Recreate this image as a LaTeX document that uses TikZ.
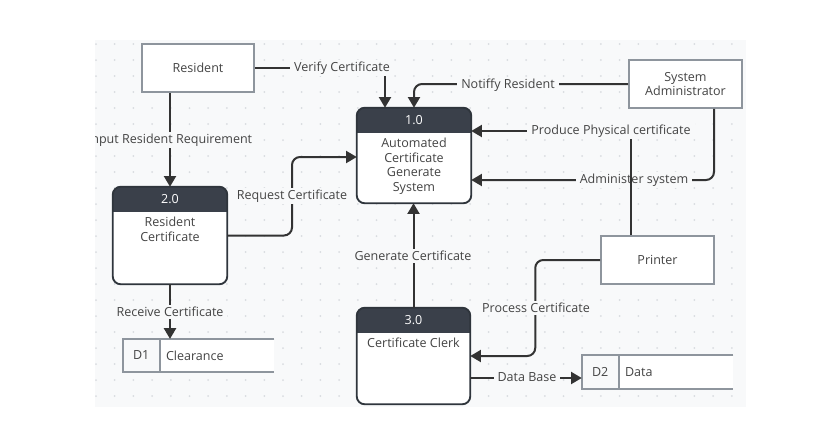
\documentclass[tikz,border=0pt]{standalone}
\usepackage{fontspec}
\setmainfont{Open Sans}
\usetikzlibrary{arrows.meta,calc}
\definecolor{bg}{HTML}{F8F9FA}
\definecolor{dotc}{HTML}{D9DCE0}
\definecolor{hdr}{HTML}{3A404A}
\definecolor{pborder}{HTML}{2F353C}
\definecolor{eborder}{HTML}{8E959D}
\definecolor{linec}{HTML}{333333}
\definecolor{txt}{HTML}{444444}
\newcommand\dfdfont{\fontsize{9.4}{10.9}\selectfont}
\tikzset{
 flow/.style={draw=linec, line width=1.5pt, -{Triangle[length=8pt,width=9pt]}},
 lbl/.style={fill=bg, inner xsep=3pt, inner ysep=1.5pt, text=txt, font=\dfdfont},
 entity/.style={draw=eborder, fill=white, line width=1.4pt, minimum width=84.5pt, minimum height=36pt, inner sep=0pt, text=txt, align=center, font=\dfdfont},
 storeline/.style={draw=eborder, line width=1.4pt},
 txtnode/.style={text=txt, font=\dfdfont, inner sep=0pt},
}
\newcommand\dfdproc[6]{%
 \node[minimum width=#3, minimum height=#4, inner sep=0pt] (#1) at #2 {};
 \fill[white, rounded corners=6pt] (#1.north west) rectangle (#1.south east);
 \begin{scope}
  \clip (#1.north west) rectangle ($(#1.north east)+(0,25)$);
  \fill[hdr, rounded corners=6pt] (#1.north west) rectangle (#1.south east);
 \end{scope}
 \draw[pborder, line width=1.4pt, rounded corners=6pt] (#1.north west) rectangle (#1.south east);
 \node[txtnode, text=white] (#1h) at ($(#1.north)+(0,12.5)$) {#5};
 \node[txtnode, anchor=north, align=center] (#1t) at ($(#1.north)+(0,30)$) {#6};
}
\newcommand\dfdstore[4]{%
 \node[minimum width=113.25pt, minimum height=24.5pt, inner sep=0pt] (#1) at #2 {};
 \fill[white] (#1.north west) rectangle (#1.south east);
 \fill[bg] (#1.north west) rectangle ($(#1.south west)+(37,0)$);
 \draw[storeline] (#1.north east) -- (#1.north west) -- (#1.south west) -- (#1.south east);
 \draw[storeline] ($(#1.north west)+(37,0)$) -- ($(#1.south west)+(37,0)$);
 \node[txtnode] (#1i) at ($(#1.west)+(18.5,0)$) {#3};
 \node[txtnode, anchor=west] (#1l) at ($(#1.west)+(43,0)$) {#4};
}
\begin{document}
\begin{tikzpicture}[x=0.75pt, y=-0.75pt]
\useasboundingbox (0,0) rectangle (813,422);
\fill[white] (0,0) rectangle (813,422);
\fill[bg] (95,40) rectangle (746,407);
\foreach \i in {0,...,34} {
  \foreach \j in {0,...,22} {
    \fill[dotc] ({96+18.7*\i},{44+16*\j}) circle (0.75pt);
  }
}
\begin{scope}
\clip (95,40) rectangle (746,407);
% external entities
\node[entity] (res) at (198,68) {Resident};
\node[entity] (sa) at (685.5,84) {System\\Administrator};
\node[entity] (pr) at (657.5,260) {Printer};
% processes
\dfdproc{p1}{(414,155.5)}{85.5pt}{71.25pt}{1.0}{Automated\\Certificate\\Generate\\System}
\dfdproc{p2}{(170,235.5)}{85.5pt}{72.75pt}{2.0}{Resident\\Certificate}
\dfdproc{p3}{(413.5,356)}{84.75pt}{72pt}{3.0}{Certificate Clerk}
% data stores
\dfdstore{d1}{(198.5,355.5)}{D1}{Clearance}
\dfdstore{d2}{(657.5,372)}{D2}{Data}
% flows
\draw[flow] (res.east) -| ($(p1.north)+(-29,0)$);
\node[lbl] (lverify) at (342,68) {Verify Certificate};
\draw[flow, rounded corners=6pt] (sa.west) -| (p1.north);
\node[lbl] (lnotify) at (508,85) {Notiffy Resident};
\draw[flow] (p2.north |- res.south) -- (p2.north);
\node[lbl] (linput) at (170,140) {Input Resident Requirement};
\draw[flow, rounded corners=6pt] (p2.east) -| ($(p2.east)!0.5!(p1.west)$) |- ($(p1.west)+(0,1.5)$);
\node[lbl] (lrequest) at (292,196) {Request Certificate};
\draw[flow, rounded corners=6pt] ($(sa.south)+(28.5,0)$) |- ($(p1.east)+(0,24.5)$);
\node[lbl] (ladmin) at (634,180) {Administer system};
\draw[flow] ($(pr.north)+(-26.5,0)$) |- ($(p1.east)+(0,-24.5)$);
\node[lbl] (lproduce) at (611,131) {Produce Physical certificate};
\draw[flow] (p3.north) -- (p3.north |- p1.south);
\node[lbl] (lgenerate) at (413,256) {Generate Certificate};
\draw[flow, rounded corners=6pt] (pr.west) -| ($(pr.west)!0.5!(p3.east)$) |- (p3.east);
\node[lbl] (lprocess) at (536,308) {Process Certificate};
\draw[flow] (p2.south) -- (p2.south |- d1.north);
\node[lbl] (lreceive) at (170,312) {Receive Certificate};
\draw[flow] ($(p3.east)+(0,22)$) -- ($(d2.west)+(0,6)$);
\node[lbl] (ldata) at (527,377) {Data Base};
\end{scope}
\end{tikzpicture}
\end{document}
